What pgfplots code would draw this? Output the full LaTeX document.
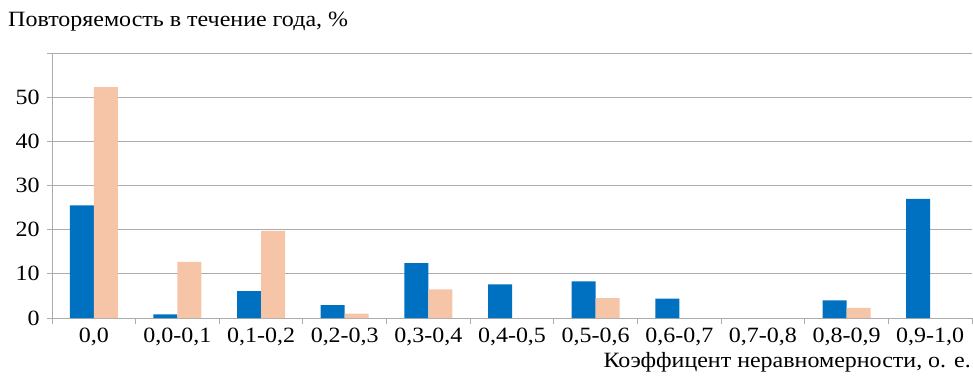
\documentclass[border=0pt]{standalone}
\usepackage{fontspec}
\setmainfont{Liberation Serif}[FakeStretch=1.1]
\usepackage{pgfplots}
\pgfplotsset{compat=1.18}
\definecolor{cblue}{HTML}{0070C0}
\definecolor{csalmon}{HTML}{F6C5A8}
\definecolor{cgrid}{RGB}{172,172,172}
\begin{document}
\fontsize{21.8}{25}\selectfont
\begin{tikzpicture}
\begin{axis}[
  at={(0,0)}, anchor=south west,
  scale only axis,
  width=920pt, height=265pt,
  xmin=-0.5, xmax=10.5, ymin=0, ymax=60,
  ybar=0pt, bar width=24pt,
  axis lines=left,
  axis line style={-, draw=cgrid, line width=0.9pt},
  xtick={0,...,10},
  xticklabels={{0,0},{0,0-0,1},{0,1-0,2},{0,2-0,3},{0,3-0,4},{0,4-0,5},{0,5-0,6},{0,6-0,7},{0,7-0,8},{0,8-0,9},{0,9-1,0}},
  major x tick style={draw=none},
  minor xtick={-0.5,0.5,...,10.5},
  minor x tick style={draw=cgrid, line width=0.9pt},
  minor tick length=6pt,
  tick align=outside,
  ytick={0,10,...,60},
  yticklabels={0,10,20,30,40,50,},
  major y tick style={draw=cgrid, line width=0.9pt},
  major tick length=5pt,
  ymajorgrids,
  major grid style={draw=cgrid, line width=0.9pt},
  /pgf/number format/assume math mode=true,
  xticklabel style={yshift=2pt},
  clip=false,
]
\addplot[fill=cblue, draw=none, bar shift=-12pt] coordinates {
(0,25.5) (1,0.8) (2,6.1) (3,2.9) (4,12.4) (5,7.6) (6,8.3) (7,4.4) (9,4.0) (10,27.0)};
\addplot[fill=csalmon, draw=none, bar shift=12pt] coordinates {
(0,52.3) (1,12.7) (2,19.7) (3,1.0) (4,6.5) (6,4.5) (9,2.3)};
\node[anchor=west, inner sep=0pt] at (axis description cs:-0.0478,1.117) {Повторяемость в течение года, \%};
\node[anchor=east, inner sep=0pt] at (axis description cs:0.999,-0.166) {Коэффицент неравномерности, о. е.};
\end{axis}
\path (-52pt,-62pt) rectangle (921pt,318pt);
\end{tikzpicture}
\end{document}
